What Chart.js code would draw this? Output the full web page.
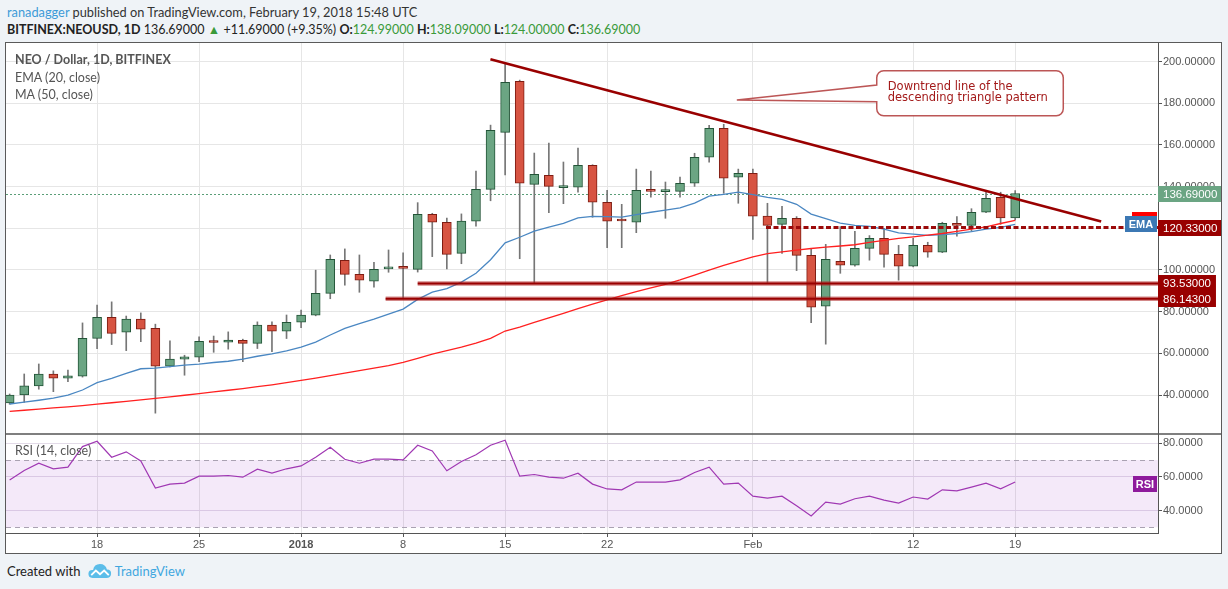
<!DOCTYPE html>
<html>
<head>
<meta charset="utf-8">
<script src="https://cdn.jsdelivr.net/npm/chart.js@4.4.1/dist/chart.umd.min.js"></script>
<style>
  body { margin: 0; width: 1228px; height: 589px; overflow: hidden; background: #eff3f7; font-family: Lato, "Liberation Sans", sans-serif; }
  .abs { position: absolute; white-space: nowrap; }
  #line1 { left: 7px; top: 4px; font-size: 12.8px; color: #333; }
  #line1 .user { color: #3d9bd8; }
  #line2 { left: 7px; top: 22px; font-size: 12.5px; color: #222; }
  #line2 .g { color: #3a9a3a; }
  #box { position: absolute; left: 5px; top: 42px; width: 1215px; height: 510px; border: 1px solid #5a5a5a; background: #fff; }
  .legend { color: #555; font-size: 12.5px; }
  #footer { left: 7px; top: 563px; font-size: 13px; color: #222; }
  #footer .tv { color: #3fa7df; }
</style>
</head>
<body>
<div id="line1" class="abs"><span class="user">ranadagger</span> published on TradingView.com, February 19, 2018 15:48 UTC</div>
<div id="line2" class="abs"></div>
<div id="box"><canvas id="chart" width="1215" height="510"></canvas></div>
<div class="abs legend" style="left:15px;top:52px;font-weight:bold">NEO / Dollar, 1D, BITFINEX</div>
<div class="abs legend" style="left:15px;top:70px">EMA (20, close)</div>
<div class="abs legend" style="left:15px;top:87px">MA (50, close)</div>
<div class="abs legend" style="left:15px;top:443px">RSI (14, close)</div>
<div id="footer" class="abs">Created with
  <svg width="24" height="16" viewBox="0 0 26 17" style="vertical-align:-3px;margin-left:4px"><path d="M5 16 Q0 16 0.5 11 Q1 7 5.5 7.5 Q6.5 1 13 1 Q19 1 20.5 7 Q25.5 7 25 12 Q24.5 16 20 16 Z" fill="#5bbde9"/><path d="M3.5 13 L8.5 8 L13 12 L17.5 8 L22.5 13" stroke="#fff" stroke-width="2" fill="none"/></svg>
  <span class="tv">TradingView</span></div>

<script>
// NEO/USD daily candles, Dec 12 2017 .. Feb 19 2018 (index 0 = Dec 12)
const opens  = [36.2, 40.0, 44.4, 50.0, 48.1, 49.0, 67.2, 77.3, 70.1, 76.4,
                72.0, 53.8, 57.2, 58.2, 65.5, 65.3, 66.3, 64.8, 73.5, 70.6,
                74.9, 78.3, 88.8, 104.6, 97.9, 94.6, 100.5, 101.8, 100.3, 126.7,
                122.9, 108.0, 123.4, 138.7, 166.0, 190.5, 141.1, 145.4, 139.5, 139.7,
                150.2, 132.5, 124.0, 122.9, 138.2, 137.6, 137.7, 141.6, 154.1, 168.0,
                144.5, 146.4, 125.8, 121.9, 124.8, 107.0, 82.6, 104.2, 102.3, 110.4,
                115.2, 107.5, 101.8, 111.8, 108.5, 122.4, 121.4, 127.7, 134.9, 124.99];
const highs  = [40.5, 50.1, 54.9, 51.6, 52.0, 74.6, 83.2, 84.7, 77.9, 79.4,
                74.0, 66.0, 59.1, 67.9, 68.3, 70.3, 66.8, 75.1, 75.1, 78.4,
                80.7, 99.9, 107.2, 110.1, 107.2, 103.7, 109.6, 108.2, 132.3, 127.2,
                124.9, 126.9, 147.5, 169.5, 199.1, 191.1, 156.1, 160.9, 151.8, 158.5,
                150.5, 138.2, 131.5, 148.4, 147.5, 142.2, 144.6, 156.0, 169.4, 169.9,
                148.4, 148.4, 132.0, 130.5, 125.6, 110.2, 112.3, 120.8, 118.6, 116.5,
                120.0, 111.8, 115.2, 113.3, 122.9, 125.6, 129.4, 137.7, 137.3, 138.09];
const lows   = [35.6, 36.5, 42.8, 41.6, 46.4, 48.6, 62.3, 64.2, 61.3, 65.6,
                31.3, 53.5, 49.5, 56.0, 60.5, 62.0, 56.0, 62.3, 60.8, 67.1,
                72.3, 78.0, 86.2, 92.7, 89.3, 91.7, 98.9, 86.2, 99.0, 106.4,
                100.5, 103.0, 121.0, 133.2, 145.6, 105.4, 93.5, 127.5, 131.8, 137.3,
                125.3, 110.7, 110.7, 117.9, 134.9, 124.8, 134.9, 140.1, 151.7, 136.8,
                132.0, 114.7, 94.0, 108.0, 99.7, 74.7, 64.4, 98.4, 101.8, 104.7,
                101.3, 95.1, 101.5, 106.1, 108.3, 116.2, 118.6, 127.5, 121.9, 124.0];
const closes = [40.0, 44.4, 50.0, 48.1, 49.2, 67.2, 77.3, 69.6, 76.4, 71.6,
                53.8, 57.2, 58.3, 65.8, 65.2, 66.4, 64.8, 73.5, 70.6, 74.9,
                78.3, 88.8, 105.1, 97.9, 95.1, 100.3, 100.9, 100.8, 126.7, 122.9,
                107.5, 123.4, 138.7, 167.0, 190.0, 141.6, 145.9, 140.1, 139.9, 150.2,
                132.5, 123.4, 123.5, 138.2, 137.7, 137.9, 141.6, 154.1, 168.0, 144.0,
                146.4, 125.8, 121.4, 124.8, 107.0, 82.1, 105.1, 102.3, 110.4, 115.2,
                107.5, 101.8, 111.8, 108.5, 122.4, 121.4, 127.7, 134.4, 125.0, 136.69];
const ema20  = [35.7, 36.6, 37.5, 38.5, 39.9, 42.4, 45.9, 48.0, 50.4, 52.6,
                52.9, 53.6, 54.3, 54.8, 55.6, 56.2, 57.2, 58.6, 59.7, 61.2,
                63.0, 65.4, 68.8, 72.0, 74.2, 76.4, 78.8, 81.2, 85.9, 89.4,
                91.1, 94.2, 98.4, 104.9, 113.0, 115.7, 118.6, 120.6, 122.4, 125.0,
                125.7, 125.6, 125.4, 126.6, 127.7, 128.7, 129.8, 132.1, 135.4, 136.3,
                137.3, 136.2, 134.8, 133.9, 131.5, 126.8, 124.6, 122.5, 121.4, 120.9,
                119.6, 117.8, 117.2, 116.6, 117.0, 117.5, 118.4, 119.6, 120.4, 121.9];
const ma50   = [32.2, 32.7, 33.2, 33.8, 34.3, 34.9, 35.6, 36.3, 37.0, 37.7,
                38.4, 39.1, 39.9, 40.7, 41.5, 42.3, 43.1, 44.0, 44.9, 45.9,
                47.0, 48.1, 49.3, 50.5, 51.7, 52.9, 54.1, 55.7, 57.6, 59.6,
                61.3, 63.0, 64.9, 67.2, 70.7, 72.6, 74.8, 77.0, 79.2, 81.5,
                83.6, 85.6, 87.7, 89.6, 91.4, 93.1, 95.2, 97.5, 99.9, 102.2,
                104.3, 106.3, 107.8, 108.7, 109.5, 110.3, 111.0, 111.5, 112.1, 113.2,
                114.2, 115.2, 115.9, 116.7, 117.5, 118.5, 119.6, 120.7, 122.3, 123.8];
const rsi14  = [58.2, 63.8, 68.1, 64.8, 65.8, 78.0, 81.2, 71.7, 74.9, 69.5,
                53.3, 55.7, 56.3, 60.4, 60.4, 60.8, 59.8, 64.6, 62.2, 64.8,
                66.5, 71.7, 77.6, 70.5, 68.1, 70.5, 70.5, 70.1, 78.8, 75.4,
                63.6, 69.1, 73.1, 78.8, 81.8, 60.4, 61.4, 59.8, 59.2, 62.2,
                55.7, 52.8, 52.3, 56.9, 56.9, 56.9, 58.2, 62.6, 65.8, 55.7,
                56.3, 48.5, 47.4, 48.5, 42.8, 36.7, 45.0, 43.8, 47.0, 48.5,
                46.2, 44.4, 48.0, 46.8, 52.3, 51.7, 53.9, 56.3, 52.9, 56.9];

const tickIdx    = [6, 13, 20, 27, 34, 41, 51, 62, 69];
const tickLabels = ['18', '25', '2018', '8', '15', '22', 'Feb', '12', '19'];

// drawn lines (index, price)
const trendX = [32.99, 74.9];
const trendY = [201.05, 123.2];
const levelValues = [93.53, 86.143];
const levelStarts = [28, 25.8];
const resistValue = 120.33;
const resistStart = 51.9;
const rsiBand = [30, 70];

const xRange = [-0.25, 78.8];
const priceRange = [21.3, 208.9];
const rsiRange = [26.6, 85.5];

const callout = {
  lines: ['Downtrend line of the', 'descending triangle pattern'],
  tip: [49.9, 181.6],
  box: [59.5, 72.3, 195.6, 174.0],
  base: [188.7, 180.7]
};

const last = closes.length - 1;
const f5 = v => v.toFixed(5);
const chg = closes[last] - closes[last - 1];
const pct = chg / closes[last - 1] * 100;
document.getElementById('line2').innerHTML =
  '<b>BITFINEX:NEOUSD, 1D</b> ' + f5(closes[last]) +
  ' <span class="g">&#9650;</span> +' + f5(chg) + ' (+' + pct.toFixed(2) + '%) ' +
  '<b>O:</b><span class="g">' + f5(opens[last]) + '</span> ' +
  '<b>H:</b><span class="g">' + f5(highs[last]) + '</span> ' +
  '<b>L:</b><span class="g">' + f5(lows[last]) + '</span> ' +
  '<b>C:</b><span class="g">' + f5(closes[last]) + '</span>';

const idx = closes.map((_, i) => i);
const isUp = idx.map(i => closes[i] >= opens[i]);
const pts = arr => idx.map(i => ({ x: i, y: arr[i] }));

const lineSet = (data, color, width, order, extra) => Object.assign({
  type: 'line', data, borderColor: color, borderWidth: width, pointRadius: 0,
  tension: 0, fill: false, order, yAxisID: 'y'
}, extra || {});

const datasets = [
  {
    type: 'bar', data: idx.map(i => ({ x: i, y: [lows[i], highs[i]] })),
    backgroundColor: '#767676', barThickness: 1, grouped: false, order: 4, yAxisID: 'y'
  },
  {
    type: 'bar', data: idx.map(i => ({ x: i, y: [opens[i], closes[i]] })),
    backgroundColor: idx.map(i => isUp[i] ? '#6ba583' : '#d75442'),
    borderColor: idx.map(i => isUp[i] ? '#225437' : '#7e1c12'),
    borderWidth: 1, borderSkipped: false, barThickness: 9, minBarLength: 2,
    grouped: false, order: 3, yAxisID: 'y'
  },
  lineSet(pts(ma50), '#ff2020', 1.3, 2),
  lineSet(pts(ema20), '#4a87c2', 1.3, 2),
  {
    type: 'line', data: pts(rsi14), borderColor: '#a038b3', borderWidth: 1.2,
    pointRadius: 0, tension: 0, fill: false, order: 2, yAxisID: 'yRsi'
  }
];
levelValues.forEach((v, k) => {
  const d = [{ x: levelStarts[k], y: v }, { x: xRange[1], y: v }];
  datasets.push(lineSet(d, 'rgba(175,40,40,0.55)', 4.5, 1));
  datasets.push(lineSet(d, '#990000', 2, 0));
});
datasets.push(lineSet([{ x: resistStart, y: resistValue }, { x: xRange[1], y: resistValue }],
  '#9b0a0a', 3, 0, { borderDash: [5, 2.5] }));
datasets.push(lineSet(trendX.map((xv, k) => ({ x: xv, y: trendY[k] })), '#990000', 2.6, 0));

function axisTag(ctx, x0, yc, text, bg, fg) {
  ctx.font = '11.5px "Liberation Sans"';
  const w = ctx.measureText(text).width + 10;
  ctx.fillStyle = bg;
  ctx.fillRect(x0, Math.round(yc - 8), w, 16);
  ctx.fillStyle = fg;
  ctx.textBaseline = 'middle';
  ctx.textAlign = 'left';
  ctx.fillText(text, x0 + 5, Math.round(yc - 8) + 8.5);
}

const overlay = {
  id: 'overlay',
  beforeDatasetsDraw(chart) {
    const { ctx, chartArea: a, scales: { y, yRsi } } = chart;
    ctx.save();
    const p70 = yRsi.getPixelForValue(rsiBand[1]);
    const p30 = yRsi.getPixelForValue(rsiBand[0]);
    ctx.fillStyle = 'rgba(150,40,200,0.1)';
    ctx.fillRect(a.left, p70, a.right - a.left, p30 - p70);
    ctx.strokeStyle = '#aaa2b2';
    ctx.lineWidth = 1;
    ctx.setLineDash([5, 4]);
    [p70, p30].forEach(py => {
      ctx.beginPath();
      ctx.moveTo(a.left, Math.round(py) + 0.5);
      ctx.lineTo(a.right, Math.round(py) + 0.5);
      ctx.stroke();
    });
    const lp = Math.round(y.getPixelForValue(closes[last])) + 0.5;
    ctx.strokeStyle = '#5a9e78';
    ctx.setLineDash([2, 2]);
    ctx.beginPath();
    ctx.moveTo(a.left, lp);
    ctx.lineTo(a.right, lp);
    ctx.stroke();
    ctx.restore();
  },
  afterDatasetsDraw(chart) {
    const { ctx, scales: { x, y } } = chart;
    const L = x.getPixelForValue(callout.box[0]), R = x.getPixelForValue(callout.box[1]);
    const T = y.getPixelForValue(callout.box[2]), B = y.getPixelForValue(callout.box[3]);
    const tx = x.getPixelForValue(callout.tip[0]), ty = y.getPixelForValue(callout.tip[1]);
    const b1 = y.getPixelForValue(callout.base[0]), b2 = y.getPixelForValue(callout.base[1]);
    const rad = 7;
    ctx.save();
    ctx.beginPath();
    ctx.moveTo(L + rad, T);
    ctx.arcTo(R, T, R, B, rad);
    ctx.arcTo(R, B, L, B, rad);
    ctx.arcTo(L, B, L, T, rad);
    ctx.lineTo(L, b2);
    ctx.lineTo(tx, ty);
    ctx.lineTo(L, b1);
    ctx.arcTo(L, T, R, T, rad);
    ctx.closePath();
    ctx.fillStyle = '#fff';
    ctx.fill();
    ctx.strokeStyle = 'rgba(165,30,30,0.75)';
    ctx.lineWidth = 1.5;
    ctx.stroke();
    ctx.fillStyle = '#a31a1a';
    ctx.font = '11.5px "DejaVu Sans"';
    ctx.textBaseline = 'middle';
    callout.lines.forEach((s, k) => ctx.fillText(s, L + 11, T + 16 + k * 11.6));
    ctx.restore();
  },
  afterDraw(chart) {
    const { ctx, chartArea: a, scales: { y, yRsi } } = chart;
    ctx.save();
    ctx.strokeStyle = '#555';
    ctx.lineWidth = 1.5;
    ctx.beginPath();
    ctx.moveTo(0, Math.round(yRsi.top));
    ctx.lineTo(chart.width, Math.round(yRsi.top));
    ctx.stroke();
    // price axis tags
    axisTag(ctx, a.right, y.getPixelForValue(closes[last]), f5(closes[last]), '#6ba583', '#fff');
    axisTag(ctx, a.right, y.getPixelForValue(resistValue), f5(resistValue), '#990000', '#fff');
    levelValues.forEach(v => axisTag(ctx, a.right, y.getPixelForValue(v), f5(v), '#990000', '#fff'));
    // indicator tags
    ctx.font = 'bold 11px "Liberation Sans"';
    const tag = (yc, text, bg, w) => {
      ctx.fillStyle = bg;
      ctx.fillRect(a.right - w - 1, Math.round(yc - 8), w, 16);
      ctx.fillStyle = '#fff';
      ctx.textBaseline = 'middle';
      ctx.textAlign = 'center';
      ctx.fillText(text, a.right - 1 - w / 2, Math.round(yc - 8) + 8.5);
    };
    tag(y.getPixelForValue(ma50[last]), 'MA', '#ff0000', 25);
    tag(y.getPixelForValue(ema20[last]), 'EMA', '#3c78b4', 32);
    tag(yRsi.getPixelForValue(rsi14[last]) + 2, 'RSI', '#8e1a9c', 24);
    ctx.restore();
  }
};

// keep the panes flush with the canvas edges (no label overflow padding)
const noPad = w => axis => {
  if (w) axis.width = w; else axis.height = 20;
  axis.paddingTop = 0; axis.paddingBottom = 0;
  axis.paddingLeft = 0; axis.paddingRight = 0;
};

Chart.defaults.font.family = '"Liberation Sans", Arial, sans-serif';
Chart.defaults.font.size = 11;
Chart.defaults.color = '#555';

new Chart(document.getElementById('chart'), {
  type: 'bar',
  data: { datasets },
  options: {
    responsive: false,
    devicePixelRatio: 1,
    animation: false,
    events: [],
    layout: { padding: 0 },
    plugins: { legend: { display: false }, tooltip: { enabled: false } },
    scales: {
      x: {
        type: 'linear', min: xRange[0], max: xRange[1], offset: false,
        grid: { color: '#e6e6e6', offset: false, tickLength: 4, tickColor: '#555' },
        border: { color: '#555' },
        afterBuildTicks: axis => { axis.ticks = tickIdx.map(v => ({ value: v })); },
        afterFit: noPad(0),
        ticks: {
          autoSkip: false, maxRotation: 0, padding: 1,
          callback: v => tickLabels[tickIdx.indexOf(v)],
          font: c => ({ size: 11, weight: c.tick && c.tick.label === '2018' ? 'bold' : 'normal' })
        }
      },
      y: {
        axis: 'y', position: 'right', stack: 'panes', stackWeight: 391,
        min: priceRange[0], max: priceRange[1],
        grid: { color: '#e6e6e6', tickLength: 4, tickColor: '#555' },
        border: { color: '#555' },
        afterFit: noPad(63),
        ticks: { stepSize: 20, includeBounds: false, padding: 1, callback: v => v.toFixed(5) }
      },
      yRsi: {
        axis: 'y', type: 'linear', position: 'right', stack: 'panes', stackWeight: 99,
        min: rsiRange[0], max: rsiRange[1],
        grid: { color: '#e3dbe8', tickLength: 4, tickColor: '#555' },
        border: { color: '#555' },
        afterFit: noPad(63),
        ticks: { stepSize: 20, includeBounds: false, padding: 1, callback: v => v.toFixed(4) }
      }
    }
  },
  plugins: [overlay]
});
</script>
</body>
</html>
